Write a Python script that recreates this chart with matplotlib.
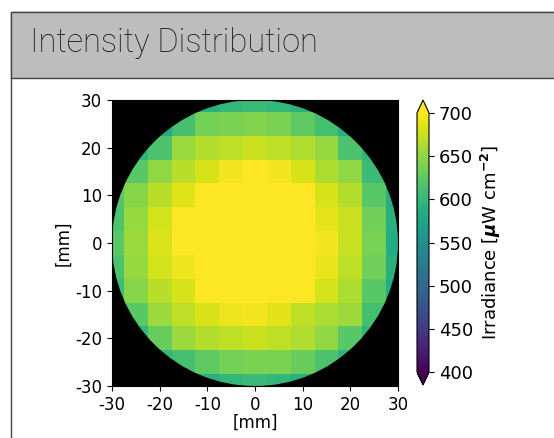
import numpy as np
import matplotlib
matplotlib.use("Agg")
import matplotlib.pyplot as plt
from matplotlib.patches import Rectangle, Circle

plt.rcParams['axes.unicode_minus'] = False

# grid positions [mm]
x_mm = [-30, -25, -20, -15, -10, -5, 0, 5, 10, 15, 20, 25, 30]
y_mm = [30, 25, 20, 15, 10, 5, 0, -5, -10, -15, -20, -25, -30]

# irradiance [uW cm^-2], rows from y=30 down to y=-30
irradiance = [
    [560, 560, 565, 575, 590, 598, 603, 598, 590, 578, 565, 560, 560],
    [565, 570, 585, 612, 636, 640, 643, 640, 625, 610, 590, 570, 565],
    [570, 595, 615, 655, 666, 670, 675, 670, 664, 652, 615, 595, 570],
    [590, 622, 650, 668, 682, 695, 700, 695, 682, 663, 650, 605, 585],
    [620, 645, 668, 685, 705, 705, 705, 705, 705, 682, 665, 622, 588],
    [615, 652, 680, 705, 705, 705, 705, 705, 705, 688, 675, 635, 590],
    [622, 655, 683, 705, 705, 705, 705, 705, 705, 695, 675, 638, 585],
    [615, 652, 680, 692, 705, 705, 705, 705, 705, 690, 670, 635, 590],
    [605, 645, 668, 682, 705, 705, 705, 705, 705, 680, 663, 622, 585],
    [590, 622, 655, 670, 682, 692, 695, 686, 670, 662, 655, 610, 580],
    [570, 600, 630, 655, 666, 670, 675, 670, 664, 650, 622, 595, 570],
    [565, 575, 600, 610, 625, 636, 640, 640, 630, 615, 595, 570, 565],
    [560, 560, 568, 578, 590, 598, 603, 598, 590, 578, 565, 560, 560],
]

ticks = [-30, -20, -10, 0, 10, 20, 30]
cbar_ticks = [400, 450, 500, 550, 600, 650, 700]

fig = plt.figure(figsize=(5.54, 4.38), dpi=100)

# panel frame and grey header (behind the axes)
fig.patches.append(Rectangle((11/554, -0.05), 1.0, 1 - 12/438 + 0.05,
                             transform=fig.transFigure, facecolor='white',
                             edgecolor='#444444', linewidth=1.0, zorder=-2))
fig.patches.append(Rectangle((11/554, 1 - 78/438), 1.0, 66/438,
                             transform=fig.transFigure, facecolor='#bdbdbd',
                             edgecolor='#444444', linewidth=1.0, zorder=-1))
fig.text(30/554, 1 - 43/438, "Intensity Distribution", fontsize=23.5,
         family='Roboto', weight='light', color='#1a1a1a', va='center', ha='left')

ax = fig.add_axes([112/554, 52/438, 286/554, 286/438])
ax.set_facecolor('black')
mesh = ax.pcolormesh(x_mm, y_mm, np.array(irradiance), cmap='viridis',
                     vmin=400, vmax=700, shading='nearest')
mesh.set_clip_path(Circle((0, 0), 30, transform=ax.transData))
ax.set_xlim(-30, 30)
ax.set_ylim(-30, 30)
ax.set_xticks(ticks)
ax.set_yticks(ticks)
ax.tick_params(labelsize=12)
ax.set_xlabel("[mm]", fontsize=12, labelpad=0)
ax.set_ylabel("[mm]", fontsize=12, labelpad=2)

cax = fig.add_axes([417/554, 53/438, 12/554, 285/438])
cb = fig.colorbar(mesh, cax=cax, extend='both', ticks=cbar_ticks)
cb.ax.tick_params(labelsize=13)
cb.set_label(r"Irradiance [$\boldsymbol{\mu}$W cm$^{\mathbf{-2}}$]", fontsize=13)

fig.savefig("out.png", dpi=100)
